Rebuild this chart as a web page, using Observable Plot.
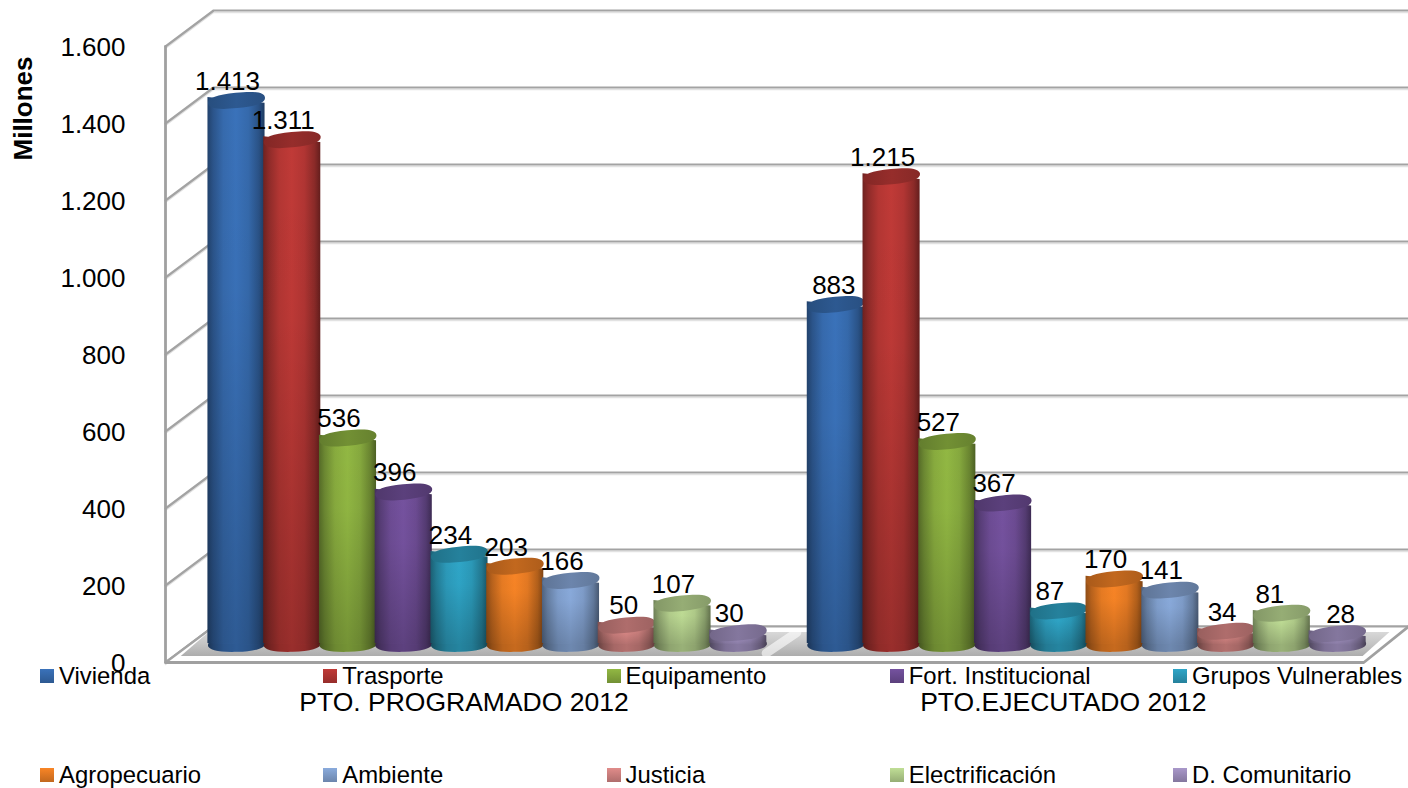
<!DOCTYPE html>
<html><head><meta charset="utf-8">
<style>
html,body{margin:0;padding:0;background:#fff}
#wrap{position:relative;width:1408px;height:788px;overflow:hidden;font-family:"Liberation Sans",Arial,sans-serif}
#legend{position:absolute;left:40px;top:664px;display:grid;grid-template-columns:repeat(5,283.25px);grid-auto-rows:99px;pointer-events:none}
.item{display:flex;align-items:flex-start;height:24px;font-size:23.9px;line-height:24px;color:#000;white-space:nowrap}
.sw{width:14px;height:14px;margin:5px 5px 0 0;flex:none}
</style>
<script src="https://cdn.jsdelivr.net/npm/d3@7"></script>
<script src="https://cdn.jsdelivr.net/npm/@observablehq/plot@0.6"></script>
</head><body><div id="wrap"></div>
<script>
const series = ["Vivienda","Trasporte","Equipamento","Fort. Institucional","Grupos Vulnerables","Agropecuario","Ambiente","Justicia","Electrificación","D. Comunitario"];
const programado = [1413,1311,536,396,234,203,166,50,107,30];
const ejecutado  = [883,1215,527,367,87,170,141,34,81,28];
const groups = ["PTO. PROGRAMADO 2012","PTO.EJECUTADO 2012"];
const yTicks = [0,200,400,600,800,1000,1200,1400,1600];
const colors = ["#3a72ba","#c03a37","#92b843","#75529f","#2fa6c8","#f98526","#8aabdc","#e08c8a","#c0de96","#a998ca"];

// layout in data units: x in bar slots, y in chart values
const slotOf = [0, 10.75];                // first slot of each group
const groupLabelSlot = [4.08, 14.83];
const depth = 93.5, midDepth = 47;        // floor depth expressed in y units
const frameLeft = -1.2735, backLeft = -0.41, frameRight = 20.22, end = 21.022;
const half = 0.512;
// small per-label horizontal nudges of the value labels
const labelShift = [[0,0,0,0,0,0,0,6,0,0],[7,0,0,0,0,0,0,5,-3,12]];

const fmt = d3.formatLocale({decimal:",",thousands:".",grouping:[3],currency:["",""]}).format(",");
const bars = [programado, ejecutado].flatMap((vals,g) => vals.map((v,i) => ({g,i,v,x:slotOf[g]+i})));

function ellipse(tilt, squash, k){ // rounded elliptical dot symbol, tilted by `tilt` radians
  return {draw(ctx,size){
    const rx=Math.sqrt(size/Math.PI), ry=rx*squash, c=Math.cos(tilt), s=Math.sin(tilt);
    const p=(x,y)=>[x*c-y*s, x*s+y*c];
    const segs=[[[rx,k*ry],[k*rx,ry],[0,ry]],[[-k*rx,ry],[-rx,k*ry],[-rx,0]],[[-rx,-k*ry],[-k*rx,-ry],[0,-ry]],[[k*rx,-ry],[rx,-k*ry],[rx,0]]];
    ctx.moveTo(...p(rx,0));
    for(const [a,b,e] of segs) ctx.bezierCurveTo(...p(...a),...p(...b),...p(...e));
    ctx.closePath();
  }};
}
const topSym = ellipse(-0.1, 0.27, 0.68), baseSym = ellipse(-0.03, 0.26, 0.62);

const defs = () => {
  const ns="http://www.w3.org/2000/svg";
  const d=document.createElementNS(ns,"defs");
  const grad=(id,stops,vertical)=>{
    const g=document.createElementNS(ns,"linearGradient");
    g.setAttribute("id",id);
    g.setAttribute("x1","0");g.setAttribute("y1","0");
    g.setAttribute("x2",vertical?"0":"1");g.setAttribute("y2",vertical?"1":"0");
    for(const [o,c,a] of stops){
      const s=document.createElementNS(ns,"stop");
      s.setAttribute("offset",o);s.setAttribute("stop-color",c);
      if(a!==undefined)s.setAttribute("stop-opacity",a);
      g.appendChild(s);
    }
    d.appendChild(g);
  };
  const mix=(c,f)=>{const r=d3.rgb(c);return d3.rgb(r.r*f,r.g*f,r.b*f).formatHex();};
  colors.forEach((c,i)=>{
    grad("body"+i,[[0,mix(c,.58)],[.1,mix(c,.74)],[.28,mix(c,.93)],[.5,c],[.72,mix(c,.92)],[.9,mix(c,.72)],[1,mix(c,.52)]]);
    grad("top"+i,[[0,mix(c,.68)],[.5,mix(c,.78)],[1,mix(c,.7)]]);
  });
  grad("shade",[[0,"#000",0],[.35,"#000",.02],[1,"#000",.2]],true);
  grad("floorShade",[[0,"#d8d8d8"],[.5,"#c4c4c4"],[1,"#adadad"]],true);
  return d;
};

const floor = [[frameLeft,0],[frameRight,0],[end,depth],[backLeft,depth]].map(([x,y])=>({x,y}));
const shadow = [[-1.0,17],[20.2,17],[20.68,79],[-0.5,79]].map(([x,y])=>({x,y}));
const streak = [[9.5,24],[10.05,78]].map(([x,y])=>({x,y}));
const wall = yTicks.flatMap(t=>[[frameLeft,t],[backLeft,t+depth],[end,t+depth]].map(([x,y])=>({t,x,y})));
const frame = [[frameLeft,1600],[frameLeft,0],[frameRight,0],[end,depth]].map(([x,y])=>({x,y}));
const px = 1/0.385; // one pixel in y units

const barMarks = series.flatMap((name,i)=>{
  const rows = bars.filter(d=>d.i===i);
  const pts = rows.flatMap(d=>[-1,1].map(side=>({
    g:d.g, x:d.x+side*half,
    y1:midDepth-side*1*px, y2:d.v+midDepth-side*2.8*px
  })));
  return [
    Plot.dot(rows,{x:"x",y:()=>midDepth,r:28.6,symbol:baseSym,fill:`url(#body${i})`,stroke:"none"}),
    Plot.dot(rows,{x:"x",y:()=>midDepth,r:28.6,symbol:baseSym,fill:"#000",fillOpacity:.2,stroke:"none"}),
    Plot.areaY(pts,{x:"x",y1:"y1",y2:"y2",z:"g",fill:`url(#body${i})`}),
    Plot.areaY(pts,{x:"x",y1:"y1",y2:"y2",z:"g",fill:"url(#shade)"}),
    Plot.dot(rows,{x:"x",y:d=>d.v+midDepth,r:28.6,symbol:topSym,fill:`url(#top${i})`,stroke:"none"})
  ];
});

const chart = Plot.plot({
  width:1408, height:788,
  marginLeft:165, marginRight:0, marginTop:0, marginBottom:126,
  style:{fontFamily:'"Liberation Sans",Arial,sans-serif',fontSize:"26px",background:"transparent",overflow:"visible",color:"#000"},
  x:{type:"linear",domain:[frameLeft,end]},
  y:{type:"linear",domain:[0,662/0.385]},
  marks:[
    defs,
    Plot.line(wall,{x:"x",y:"y",z:"t",stroke:"#e2e2e2",strokeWidth:1.5,dy:2,curve:"linear"}),
    Plot.line(wall,{x:"x",y:"y",z:"t",stroke:"#a3a3a3",strokeWidth:2.2,curve:"linear"}),
    Plot.line(floor,{x:"x",y:"y",fill:"#fff",stroke:"none"}),
    Plot.line(shadow,{x:"x",y:"y",fill:"url(#floorShade)",stroke:"none"}),
    Plot.line(streak,{x:"x",y:"y",stroke:"#fff",strokeOpacity:.6,strokeWidth:9}),
    Plot.line(wall.filter(d=>d.t===0),{x:"x",y:"y",stroke:"#a3a3a3",strokeWidth:2.2}),
    Plot.line(frame,{x:"x",y:"y",stroke:"#a0a0a0",strokeWidth:2.8}),
    ...barMarks,
    Plot.axisY({anchor:"left",ticks:yTicks,tickFormat:fmt,tickSize:0,tickPadding:40,fontSize:26,label:null,dy:1}),
    Plot.axisX({anchor:"bottom",ticks:groupLabelSlot,tickFormat:d=>groups[groupLabelSlot.indexOf(d)],tickSize:0,tickPadding:30,fontSize:26.5,label:null}),
    Plot.text(bars,{x:"x",y:d=>d.v+midDepth,text:d=>fmt(d.v),dx:-9,dy:-19,fontSize:26,fill:"#000",
      render(index,scales,values,dims,ctx,next){
        const g=next(index,scales,values,dims,ctx);
        const nodes=g.querySelectorAll("text");
        index.forEach((k,n)=>{
          const d=bars[k];
          const t=nodes[n];
          const m=t.getAttribute("transform")||"";
          t.setAttribute("transform",`translate(${labelShift[d.g][d.i]},0) ${m}`);
        });
        return g;
      }}),
    Plot.text(["Millones"],{x:()=>-3.82,y:()=>1439,text:d=>d,rotate:-90,fontWeight:"bold",fontSize:26,fill:"#000"})
  ]
});
const wrap = document.getElementById("wrap");
wrap.appendChild(chart);
const legend = document.createElement("div");
legend.id = "legend";
series.forEach((name,i)=>{
  const it=document.createElement("div");it.className="item";
  const sw=document.createElement("span");sw.className="sw";
  const c=d3.rgb(colors[i]);
  sw.style.background=`linear-gradient(${c.formatHex()},${d3.rgb(c.r*.78,c.g*.78,c.b*.78).formatHex()})`;
  it.appendChild(sw);it.appendChild(document.createTextNode(name));
  legend.appendChild(it);
});
wrap.appendChild(legend);
</script></body></html>
